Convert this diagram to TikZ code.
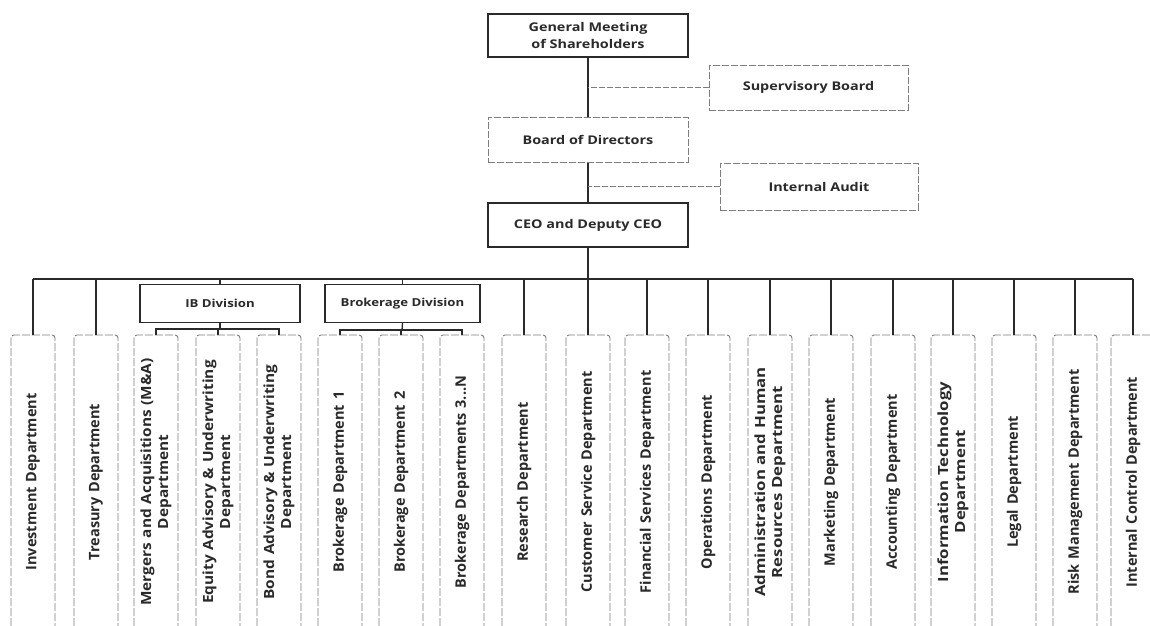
\documentclass[tikz,border=0pt]{standalone}
\usepackage{fontspec}
\setmainfont{Open Sans}
\newfontfamily\wideopen{Open Sans}[FakeStretch=1.2]
\newfontfamily\midopen{Open Sans}[FakeStretch=1.1]
\definecolor{ink}{HTML}{2A2A2A}
\definecolor{faint}{HTML}{7E7E7E}
\begin{document}
\begin{tikzpicture}[x=1pt,y=-1pt,
  topsolid/.style={draw=ink, line width=1.5pt, fill=white, text=ink,
    font=\wideopen\bfseries\fontsize{12}{16.5}\selectfont, align=center, inner sep=0pt,
    minimum width=200pt, minimum height=43pt},
  topfaint/.style={draw=faint, line width=1pt, dash pattern=on 7pt off 2pt, fill=white, text=ink,
    font=\wideopen\bfseries\fontsize{12}{15}\selectfont, align=center, inner sep=0pt,
    minimum height=45pt},
  divbox/.style={draw=ink, line width=1.3pt, fill=white, text=ink,
    font=\wideopen\bfseries\fontsize{11}{13}\selectfont, inner sep=0pt, minimum height=38pt},
  dept/.style={draw=faint, line width=0.9pt, dash pattern=on 8pt off 2pt, rounded corners=3pt,
    fill=white, text=ink, rotate=90, minimum width=294pt, minimum height=44pt,
    inner sep=0pt, text width=290pt, align=center,
    font=\bfseries\fontsize{14.5}{17}\selectfont},
  deptwide/.style={dept, font=\wideopen\bfseries\fontsize{14}{17}\selectfont},
  deptmid/.style={dept, font=\midopen\bfseries\fontsize{14}{17}\selectfont},
  link/.style={draw=ink, line width=1.3pt},
  flink/.style={draw=faint, line width=1pt, dash pattern=on 6pt off 2pt},
]
\clip (0,0) rectangle (1150,625);
\fill[white] (0,0) rectangle (1150,625);

% top hierarchy
\node[topsolid] (gms) at (588,35.5) {General Meeting\\of Shareholders};
\node[topfaint, minimum width=199pt] (sup) at (808.5,87.5) {Supervisory Board};
\node[topfaint, minimum width=200pt] (bod) at (588,139.5) {Board of Directors};
\node[topfaint, minimum width=198pt, minimum height=47pt] (ia) at (819,186.5) {Internal Audit};
\node[topsolid, minimum height=44pt] (ceo) at (588,225) {CEO and Deputy CEO};

\coordinate (bus) at (588,279);
\coordinate (ibbar) at (220,329);
\coordinate (brbar) at (402,330);

% divisions
\node[divbox, minimum width=160pt] (ib) at (220,303.5) {IB Division};
\node[divbox, minimum width=155pt] (br) at (402.5,303.5) {Brokerage Division};

% departments: single-line labels
\foreach \nm/\x/\t in {
  inv/33/{Investment Department},
  tre/96/{Treasury Department},
  brk1/340/{Brokerage Department 1},
  brk2/401/{Brokerage Department 2},
  brk3/462/{Brokerage Departments 3...N},
  res/524/{Research Department},
  cs/588/{Customer Service Department},
  fs/647/{Financial Services Department},
  ops/708/{Operations Department},
  mkt/831/{Marketing Department},
  acc/893/{Accounting Department},
  leg/1014/{Legal Department},
  risk/1075/{Risk Management Department},
  ic/1133/{Internal Control Department}}
  {\node[dept] (\nm) at (\x,482) {\t};}
% departments: two-line labels
\foreach \nm/\x/\t in {
  ma/156/{Mergers and Acquisitions (M\&A)\\Department},
  eq/218/{Equity Advisory \& Underwriting\\Department},
  bond/279/{Bond Advisory \& Underwriting\\Department}}
  {\node[deptmid] (\nm) at (\x,482) {\t};}
\foreach \nm/\x/\t in {
  adm/770/{Administration and Human\\Resources Department},
  it/953/{Information Technology\\Department}}
  {\node[deptwide] (\nm) at (\x,482) {\t};}

% trunk
\draw[link] (gms) -- (bod);
\draw[link] (bod) -- (ceo);
\draw[link] (ceo) -- (bus);
\draw[flink] (sup.west) -- (sup.west -| gms);
\draw[flink] (ia.west) -- (ia.west -| gms);

% bus
\draw[link] (inv.east |- bus) -- (ic.east |- bus);
\foreach \nm in {inv,tre,res,cs,fs,ops,adm,mkt,acc,it,leg,risk,ic}
  \draw[link] (\nm.east |- bus) -- (\nm.east);
\draw[link] (ib.north |- bus) -- (ib.north);
\draw[link] (br.north |- bus) -- (br.north);

% IB division
\draw[link] (ib.south) -- (ibbar);
\draw[link] (ma.east) -- (ma.east |- ibbar) -- (bond.east |- ibbar) -- (bond.east);
\draw[link] (eq.east |- ibbar) -- (eq.east);

% Brokerage division
\draw[link] (br.south) -- (brbar);
\draw[link] (brk1.east) -- (brk1.east |- brbar) -- (brk3.east |- brbar) -- (brk3.east);
\draw[link] (brk2.east |- brbar) -- (brk2.east);
\end{tikzpicture}
\end{document}
